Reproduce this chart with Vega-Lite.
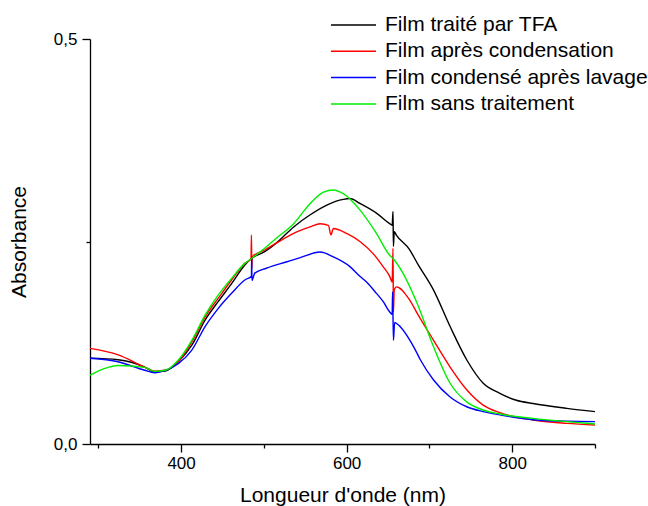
{
  "$schema": "https://vega.github.io/schema/vega-lite/v6.json",
  "width": 505,
  "height": 405,
  "autosize": "none",
  "padding": {"left": 90, "top": 39, "right": 53, "bottom": 62},
  "background": "white",
  "config": {"view": {"stroke": null}, "font": "Liberation Sans"},
  "data": {"values": [
    {"nm": 290, "A": 0.106, "s": "Film traité par TFA"},
    {"nm": 324, "A": 0.104, "s": "Film traité par TFA"},
    {"nm": 356, "A": 0.095, "s": "Film traité par TFA"},
    {"nm": 368, "A": 0.089, "s": "Film traité par TFA"},
    {"nm": 381, "A": 0.090, "s": "Film traité par TFA"},
    {"nm": 397, "A": 0.102, "s": "Film traité par TFA"},
    {"nm": 413, "A": 0.122, "s": "Film traité par TFA"},
    {"nm": 429, "A": 0.153, "s": "Film traité par TFA"},
    {"nm": 445, "A": 0.176, "s": "Film traité par TFA"},
    {"nm": 461, "A": 0.198, "s": "Film traité par TFA"},
    {"nm": 477, "A": 0.221, "s": "Film traité par TFA"},
    {"nm": 485, "A": 0.229, "s": "Film traité par TFA"},
    {"nm": 501, "A": 0.2375, "s": "Film traité par TFA"},
    {"nm": 515, "A": 0.248, "s": "Film traité par TFA"},
    {"nm": 536, "A": 0.268, "s": "Film traité par TFA"},
    {"nm": 556, "A": 0.283, "s": "Film traité par TFA"},
    {"nm": 576, "A": 0.295, "s": "Film traité par TFA"},
    {"nm": 596, "A": 0.302, "s": "Film traité par TFA"},
    {"nm": 604, "A": 0.303, "s": "Film traité par TFA"},
    {"nm": 616, "A": 0.297, "s": "Film traité par TFA"},
    {"nm": 636, "A": 0.285, "s": "Film traité par TFA"},
    {"nm": 652, "A": 0.272, "s": "Film traité par TFA"},
    {"nm": 655, "A": 0.270, "s": "Film traité par TFA"},
    {"nm": 656, "A": 0.287, "s": "Film traité par TFA"},
    {"nm": 656.5, "A": 0.244, "s": "Film traité par TFA"},
    {"nm": 657.5, "A": 0.262, "s": "Film traité par TFA"},
    {"nm": 660, "A": 0.258, "s": "Film traité par TFA"},
    {"nm": 676, "A": 0.240, "s": "Film traité par TFA"},
    {"nm": 686, "A": 0.222, "s": "Film traité par TFA"},
    {"nm": 705, "A": 0.190, "s": "Film traité par TFA"},
    {"nm": 725, "A": 0.145, "s": "Film traité par TFA"},
    {"nm": 745, "A": 0.104, "s": "Film traité par TFA"},
    {"nm": 765, "A": 0.075, "s": "Film traité par TFA"},
    {"nm": 785, "A": 0.0626, "s": "Film traité par TFA"},
    {"nm": 805, "A": 0.054, "s": "Film traité par TFA"},
    {"nm": 825, "A": 0.050, "s": "Film traité par TFA"},
    {"nm": 866, "A": 0.044, "s": "Film traité par TFA"},
    {"nm": 900, "A": 0.040, "s": "Film traité par TFA"},

    {"nm": 290, "A": 0.118, "s": "Film après condensation"},
    {"nm": 324, "A": 0.110, "s": "Film après condensation"},
    {"nm": 356, "A": 0.095, "s": "Film après condensation"},
    {"nm": 368, "A": 0.090, "s": "Film après condensation"},
    {"nm": 381, "A": 0.091, "s": "Film après condensation"},
    {"nm": 397, "A": 0.102, "s": "Film après condensation"},
    {"nm": 413, "A": 0.126, "s": "Film après condensation"},
    {"nm": 429, "A": 0.157, "s": "Film après condensation"},
    {"nm": 445, "A": 0.180, "s": "Film après condensation"},
    {"nm": 461, "A": 0.2025, "s": "Film après condensation"},
    {"nm": 477, "A": 0.223, "s": "Film après condensation"},
    {"nm": 484.5, "A": 0.229, "s": "Film après condensation"},
    {"nm": 485, "A": 0.258, "s": "Film après condensation"},
    {"nm": 485.5, "A": 0.217, "s": "Film après condensation"},
    {"nm": 486, "A": 0.231, "s": "Film après condensation"},
    {"nm": 501, "A": 0.2395, "s": "Film après condensation"},
    {"nm": 515, "A": 0.248, "s": "Film après condensation"},
    {"nm": 536, "A": 0.260, "s": "Film après condensation"},
    {"nm": 556, "A": 0.268, "s": "Film après condensation"},
    {"nm": 568, "A": 0.272, "s": "Film après condensation"},
    {"nm": 578, "A": 0.270, "s": "Film après condensation"},
    {"nm": 581, "A": 0.258, "s": "Film après condensation"},
    {"nm": 584, "A": 0.266, "s": "Film après condensation"},
    {"nm": 600, "A": 0.260, "s": "Film après condensation"},
    {"nm": 616, "A": 0.250, "s": "Film après condensation"},
    {"nm": 632, "A": 0.235, "s": "Film après condensation"},
    {"nm": 644, "A": 0.219, "s": "Film après condensation"},
    {"nm": 652, "A": 0.207, "s": "Film après condensation"},
    {"nm": 655, "A": 0.200, "s": "Film après condensation"},
    {"nm": 656, "A": 0.2416, "s": "Film après condensation"},
    {"nm": 656.5, "A": 0.163, "s": "Film après condensation"},
    {"nm": 657.5, "A": 0.190, "s": "Film après condensation"},
    {"nm": 660, "A": 0.194, "s": "Film après condensation"},
    {"nm": 676, "A": 0.178, "s": "Film après condensation"},
    {"nm": 686, "A": 0.160, "s": "Film après condensation"},
    {"nm": 705, "A": 0.128, "s": "Film après condensation"},
    {"nm": 725, "A": 0.095, "s": "Film après condensation"},
    {"nm": 745, "A": 0.067, "s": "Film après condensation"},
    {"nm": 765, "A": 0.048, "s": "Film après condensation"},
    {"nm": 785, "A": 0.0387, "s": "Film après condensation"},
    {"nm": 825, "A": 0.0296, "s": "Film après condensation"},
    {"nm": 866, "A": 0.0255, "s": "Film après condensation"},
    {"nm": 900, "A": 0.0235, "s": "Film après condensation"},

    {"nm": 290, "A": 0.1058, "s": "Film condensé après lavage"},
    {"nm": 324, "A": 0.1016, "s": "Film condensé après lavage"},
    {"nm": 356, "A": 0.091, "s": "Film condensé après lavage"},
    {"nm": 368, "A": 0.088, "s": "Film condensé après lavage"},
    {"nm": 381, "A": 0.091, "s": "Film condensé après lavage"},
    {"nm": 397, "A": 0.0996, "s": "Film condensé après lavage"},
    {"nm": 413, "A": 0.116, "s": "Film condensé après lavage"},
    {"nm": 429, "A": 0.145, "s": "Film condensé après lavage"},
    {"nm": 445, "A": 0.1675, "s": "Film condensé après lavage"},
    {"nm": 461, "A": 0.186, "s": "Film condensé après lavage"},
    {"nm": 477, "A": 0.2025, "s": "Film condensé après lavage"},
    {"nm": 485, "A": 0.207, "s": "Film condensé après lavage"},
    {"nm": 485.3, "A": 0.231, "s": "Film condensé après lavage"},
    {"nm": 485.6, "A": 0.202, "s": "Film condensé après lavage"},
    {"nm": 489, "A": 0.211, "s": "Film condensé après lavage"},
    {"nm": 503, "A": 0.217, "s": "Film condensé après lavage"},
    {"nm": 528, "A": 0.225, "s": "Film condensé après lavage"},
    {"nm": 544, "A": 0.230, "s": "Film condensé après lavage"},
    {"nm": 568, "A": 0.237, "s": "Film condensé après lavage"},
    {"nm": 584, "A": 0.231, "s": "Film condensé après lavage"},
    {"nm": 604, "A": 0.219, "s": "Film condensé après lavage"},
    {"nm": 616, "A": 0.207, "s": "Film condensé après lavage"},
    {"nm": 624, "A": 0.200, "s": "Film condensé après lavage"},
    {"nm": 636, "A": 0.186, "s": "Film condensé après lavage"},
    {"nm": 644, "A": 0.176, "s": "Film condensé après lavage"},
    {"nm": 652, "A": 0.163, "s": "Film condensé après lavage"},
    {"nm": 655, "A": 0.160, "s": "Film condensé après lavage"},
    {"nm": 655.5, "A": 0.188, "s": "Film condensé après lavage"},
    {"nm": 656.5, "A": 0.128, "s": "Film condensé après lavage"},
    {"nm": 658, "A": 0.150, "s": "Film condensé après lavage"},
    {"nm": 660, "A": 0.149, "s": "Film condensé après lavage"},
    {"nm": 681, "A": 0.120, "s": "Film condensé après lavage"},
    {"nm": 689, "A": 0.104, "s": "Film condensé après lavage"},
    {"nm": 705, "A": 0.079, "s": "Film condensé après lavage"},
    {"nm": 725, "A": 0.058, "s": "Film condensé après lavage"},
    {"nm": 745, "A": 0.046, "s": "Film condensé après lavage"},
    {"nm": 765, "A": 0.040, "s": "Film condensé après lavage"},
    {"nm": 785, "A": 0.036, "s": "Film condensé après lavage"},
    {"nm": 825, "A": 0.030, "s": "Film condensé après lavage"},
    {"nm": 866, "A": 0.028, "s": "Film condensé après lavage"},
    {"nm": 900, "A": 0.0276, "s": "Film condensé après lavage"},

    {"nm": 290, "A": 0.085, "s": "Film sans traitement"},
    {"nm": 308, "A": 0.0934, "s": "Film sans traitement"},
    {"nm": 324, "A": 0.097, "s": "Film sans traitement"},
    {"nm": 356, "A": 0.0946, "s": "Film sans traitement"},
    {"nm": 368, "A": 0.0897, "s": "Film sans traitement"},
    {"nm": 381, "A": 0.091, "s": "Film sans traitement"},
    {"nm": 397, "A": 0.104, "s": "Film sans traitement"},
    {"nm": 413, "A": 0.128, "s": "Film sans traitement"},
    {"nm": 429, "A": 0.159, "s": "Film sans traitement"},
    {"nm": 445, "A": 0.184, "s": "Film sans traitement"},
    {"nm": 461, "A": 0.2045, "s": "Film sans traitement"},
    {"nm": 477, "A": 0.223, "s": "Film sans traitement"},
    {"nm": 485, "A": 0.229, "s": "Film sans traitement"},
    {"nm": 501, "A": 0.2416, "s": "Film sans traitement"},
    {"nm": 515, "A": 0.254, "s": "Film sans traitement"},
    {"nm": 536, "A": 0.272, "s": "Film sans traitement"},
    {"nm": 556, "A": 0.297, "s": "Film sans traitement"},
    {"nm": 572, "A": 0.311, "s": "Film sans traitement"},
    {"nm": 584, "A": 0.3136, "s": "Film sans traitement"},
    {"nm": 596, "A": 0.309, "s": "Film sans traitement"},
    {"nm": 616, "A": 0.289, "s": "Film sans traitement"},
    {"nm": 636, "A": 0.260, "s": "Film sans traitement"},
    {"nm": 652, "A": 0.233, "s": "Film sans traitement"},
    {"nm": 656, "A": 0.229, "s": "Film sans traitement"},
    {"nm": 668, "A": 0.211, "s": "Film sans traitement"},
    {"nm": 685, "A": 0.174, "s": "Film sans traitement"},
    {"nm": 705, "A": 0.120, "s": "Film sans traitement"},
    {"nm": 725, "A": 0.075, "s": "Film sans traitement"},
    {"nm": 745, "A": 0.052, "s": "Film sans traitement"},
    {"nm": 765, "A": 0.042, "s": "Film sans traitement"},
    {"nm": 785, "A": 0.037, "s": "Film sans traitement"},
    {"nm": 825, "A": 0.0317, "s": "Film sans traitement"},
    {"nm": 866, "A": 0.0276, "s": "Film sans traitement"},
    {"nm": 900, "A": 0.0247, "s": "Film sans traitement"}
  ]},
  "mark": {"type": "line", "strokeWidth": 1.4, "interpolate": "monotone"},
  "encoding": {
    "x": {
      "field": "nm", "type": "quantitative",
      "scale": {"domain": [290, 900], "nice": false, "zero": false},
      "axis": {
        "title": "Longueur d'onde (nm)",
        "values": [300, 400, 500, 600, 700, 800, 900],
        "labelExpr": "datum.value % 200 == 0 ? datum.label : ''",
        "tickSize": {"condition": {"test": "datum.value % 200 == 0", "value": 8}, "value": 4},
        "grid": false,
        "domainColor": "black", "tickColor": "black", "labelColor": "black", "titleColor": "black",
        "domainWidth": 1.3, "tickWidth": 1.3,
        "labelFontSize": 17, "titleFontSize": 21, "titleFontWeight": "normal",
        "labelPadding": 3, "titlePadding": 13
      }
    },
    "y": {
      "field": "A", "type": "quantitative",
      "scale": {"domain": [0, 0.5], "nice": false},
      "axis": {
        "title": "Absorbance",
        "values": [0, 0.25, 0.5],
        "labelExpr": "datum.value == 0 ? '0,0' : (datum.value == 0.5 ? '0,5' : '')",
        "tickSize": {"condition": {"test": "datum.value == 0.25", "value": 4}, "value": 8},
        "grid": false,
        "domainColor": "black", "tickColor": "black", "labelColor": "black", "titleColor": "black",
        "domainWidth": 1.3, "tickWidth": 1.3,
        "labelFontSize": 17, "titleFontSize": 21, "titleFontWeight": "normal",
        "labelPadding": 5, "titlePadding": 24
      }
    },
    "color": {
      "field": "s", "type": "nominal",
      "scale": {
        "domain": ["Film traité par TFA", "Film après condensation", "Film condensé après lavage", "Film sans traitement"],
        "range": ["#000000", "#ff0000", "#0000ff", "#00ee00"]
      },
      "legend": {
        "orient": "none", "legendX": 240, "legendY": -27,
        "title": null, "padding": 0,
        "symbolType": "stroke", "symbolSize": 2025, "symbolStrokeWidth": 1.5,
        "clipHeight": 26, "rowPadding": 0.3,
        "labelFontSize": 21, "labelOffset": 8, "labelLimit": 400, "labelColor": "black"
      }
    }
  }
}
